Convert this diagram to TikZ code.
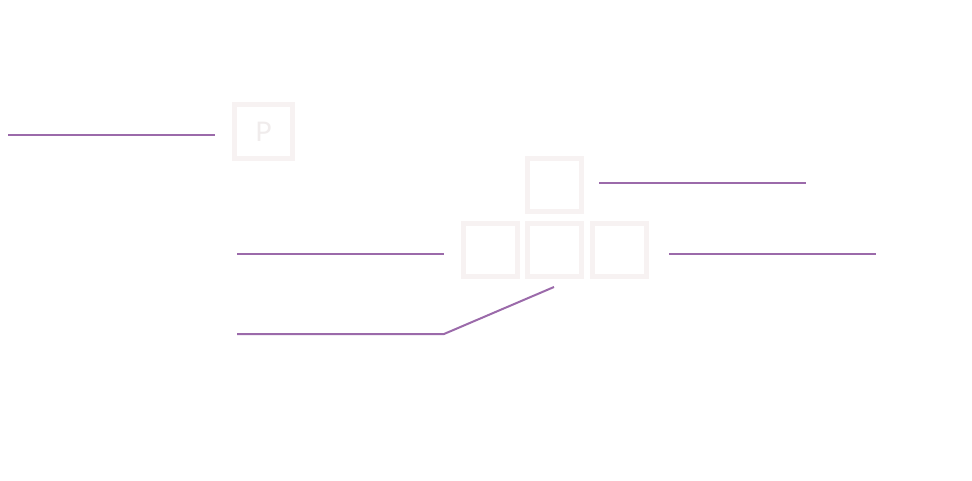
\documentclass[tikz,border=0pt]{standalone}
\usepackage{fontspec}
\setmainfont{Lato}
\definecolor{linec}{RGB}{155,106,170}
\definecolor{boxc}{RGB}{247,242,242}
\definecolor{txtc}{RGB}{240,236,236}
\begin{document}
\begin{tikzpicture}[x=1pt,y=-1pt,
  keybox/.style={draw=boxc,line width=5pt,minimum width=54pt,minimum height=53pt,inner sep=0pt,fill=white},
  leader/.style={draw=linec,line width=2pt}]
\useasboundingbox (0,0) rectangle (972,480);
\node[keybox,minimum width=58pt,minimum height=54pt,font=\fontsize{27}{30}\selectfont,text=txtc] (p) at (263.5,131.5) {P};
\node[keybox] (top) at (554.5,185) {};
\node[keybox] (bl) at (490.5,249.5) {};
\node[keybox] (bm) at (554.5,249.5) {};
\node[keybox] (br) at (619,249.5) {};
\coordinate (a1) at (8,135); \coordinate (a2) at (215,135);
\coordinate (b1) at (599,182.5); \coordinate (b2) at (806,182.5);
\coordinate (c1) at (237,253.5); \coordinate (c2) at (444,253.5);
\coordinate (d1) at (669,253.5); \coordinate (d2) at (876,253.5);
\coordinate (e1) at (237,334); \coordinate (e2) at (444,334); \coordinate (e3) at (554,287);
\draw[leader] (a1) -- (a2);
\draw[leader] (b1) -- (b2);
\draw[leader] (c1) -- (c2);
\draw[leader] (d1) -- (d2);
\draw[leader] (e1) -- (e2) -- (e3);
\end{tikzpicture}
\end{document}
